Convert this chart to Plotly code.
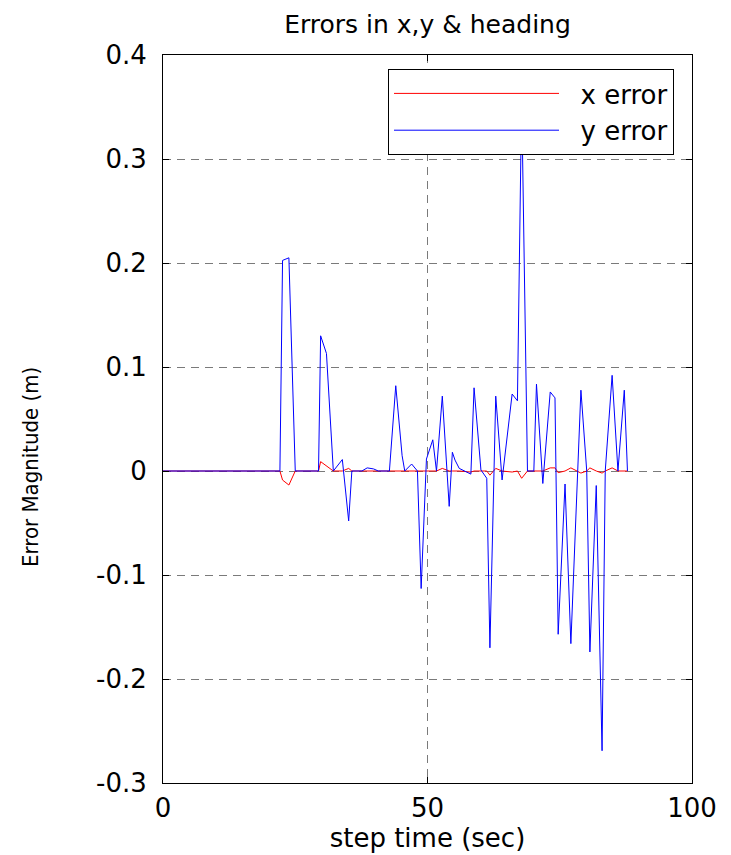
import plotly.graph_objects as go

# step times (vertices of the polylines)
t = [0, 22.1, 22.6, 23.8, 25.0, 29.4, 29.8, 30.9, 32.2, 33.9, 35.1, 35.7,
     37.6, 38.6, 39.8, 40.7, 42.8, 44.0, 45.2, 45.7, 47.0, 48.1, 48.8, 49.8,
     51.0, 51.7, 52.8, 54.1, 54.7, 55.2, 56.0, 58.2, 58.8, 60.1, 61.2, 61.8,
     62.9, 64.1, 66.0, 67.0, 67.8, 68.9, 70.1, 70.6, 71.8, 73.2, 74.1, 74.7,
     76.0, 77.1, 79.0, 80.1, 80.7, 81.9, 83.0, 83.6, 84.9, 86.0, 87.2, 87.8]

x_error = [0, 0, -0.0087, -0.0135, 0, 0, 0.009, 0.005, 0, 0, 0.0025, 0,
           0, 0, 0, 0, 0, 0, 0, 0, 0, 0, 0, 0,
           0, 0, 0.0025, 0, 0, 0, 0, -0.001, 0, 0, 0, -0.004,
           0.0025, 0, -0.001, 0, -0.007, 0, 0, 0, 0, 0.003, 0.003, -0.0016,
           0, 0.003, -0.002, 0, 0.003, 0, -0.002, 0, 0.003, 0, 0, 0]

y_error = [0, 0, 0.2025, 0.205, 0, 0, 0.13, 0.113, 0, 0.011, -0.048, 0,
           0, 0.003, 0.002, 0, 0, 0.082, 0.0147, 0, 0.0067, 0, -0.113, 0.0115,
           0.030, 0, 0.072, -0.034, 0.018, 0.0105, 0.0025, -0.003, 0.080, 0.001, -0.007, -0.170,
           0.072, -0.0086, 0.074, 0.0675, 0.36, 0, 0, 0.0835, -0.012, 0.076, 0.0703, -0.157,
           -0.0125, -0.166, 0.0777, 0, -0.174, -0.014, -0.269, 0, 0.092, 0, 0.0777, 0]

x_ticks = [0, 50, 100]
y_ticks = [-0.3, -0.2, -0.1, 0, 0.1, 0.2, 0.3, 0.4]
y_ticktext = ["-0.3", "-0.2", "-0.1", "0", "0.1", "0.2", "0.3", "0.4"]
series_names = ["\u00a0\u00a0x error", "\u00a0\u00a0y error"]

FONT = "DejaVu Sans, Liberation Sans, Arial, sans-serif"
NARROW = "Liberation Sans Narrow, DejaVu Sans Condensed, Arial Narrow, sans-serif"

# the page body adds an 8px margin; the figure is sized to compensate
W, H = 723, 847
ML, MR, MT, MB = 155, 39, 47, 72
PW, PH = W - ML - MR, H - MT - MB

fig = go.Figure()
fig.add_trace(go.Scatter(x=t, y=x_error, mode="lines", name=series_names[0],
                         line=dict(color="#ff0000", width=1)))
fig.add_trace(go.Scatter(x=t, y=y_error, mode="lines", name=series_names[1],
                         line=dict(color="#0000ff", width=1)))

axis_common = dict(
    showline=True, linecolor="black", linewidth=1, mirror="ticks",
    ticks="inside", ticklen=6, tickcolor="black", tickwidth=1,
    showgrid=True, gridcolor="#7a7a7a", gridwidth=1, griddash="8px,6px",
    zeroline=False, tickfont=dict(family=FONT, size=26, color="black"),
)

fig.update_layout(
    width=W, height=H,
    margin=dict(l=ML, r=MR, t=MT, b=MB),
    paper_bgcolor="white", plot_bgcolor="white",
    title=dict(text="Errors in x,y & heading", x=0.5, xref="paper",
               y=1 - 16 / H, yref="container", yanchor="middle",
               font=dict(family=FONT, size=25, color="black")),
    xaxis=dict(range=[0, 100], tickvals=x_ticks, ticklabelstandoff=2,
               title=dict(text="step time (sec)", standoff=2,
                          font=dict(family=FONT, size=26, color="black")),
               **axis_common),
    yaxis=dict(range=[-0.3, 0.4], tickvals=y_ticks, ticktext=y_ticktext,
               ticklabelstandoff=10, **axis_common),
    annotations=[dict(text="Error Magnitude (m)", textangle=-90,
                      xref="paper", yref="paper",
                      x=(22 - ML) / PW, y=(H - MB - 459) / PH,
                      xanchor="center", yanchor="middle", showarrow=False,
                      font=dict(family=NARROW, size=22, color="black"))],
    showlegend=True,
    legend=dict(x=(666 - ML) / PW, y=(H - MB - 61) / PH, xanchor="right", yanchor="top",
                bgcolor="white", bordercolor="black", borderwidth=1,
                itemwidth=165, tracegroupgap=0,
                font=dict(family=FONT, size=26, color="black")),
)

fig.write_html("out.html")
